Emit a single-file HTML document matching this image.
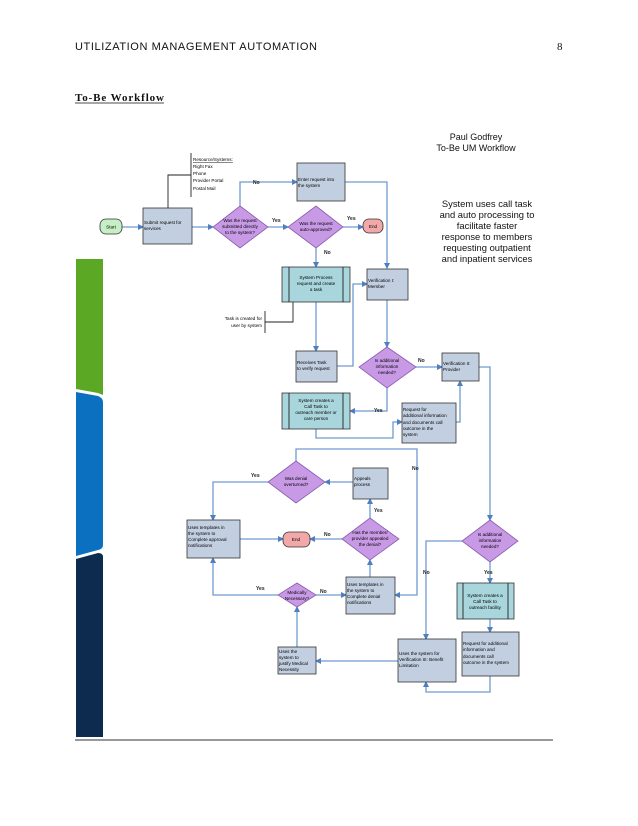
<!DOCTYPE html>
<html><head><meta charset="utf-8"><style>
html,body{margin:0;padding:0;background:#fff;}
svg{display:block;}
.t{font-family:"Liberation Sans",sans-serif;font-size:4.6px;fill:#000;}
.ln{stroke:#6f9ad0;stroke-width:1.3;fill:none;}
.bk{stroke:#222;stroke-width:0.9;fill:none;}
.box{fill:#c2cfe0;stroke:#333;stroke-width:0.8;}
.teal{fill:#a8d6dc;stroke:#333;stroke-width:0.8;}
.dia{fill:#c89ae6;stroke:#8a5ab0;stroke-width:0.8;}
.lb{font-family:"Liberation Sans",sans-serif;font-size:5px;fill:#222;font-weight:bold;}
</style></head><body>
<svg width="638" height="826" viewBox="0 0 638 826" xmlns="http://www.w3.org/2000/svg">
<defs><marker id="a" markerWidth="6" markerHeight="6" refX="5" refY="3" orient="auto" markerUnits="userSpaceOnUse"><path d="M0,0 L6,3 L0,6 z" fill="#4f7fc0"/></marker></defs>
<rect width="638" height="826" fill="#fff"/>
<text x="75" y="50" font-family="Liberation Sans,sans-serif" font-size="11" textLength="242" fill="#111">UTILIZATION MANAGEMENT AUTOMATION</text>
<text x="557" y="50" font-family="Liberation Serif,serif" font-size="11" fill="#111">8</text>
<text x="75" y="101" font-family="Liberation Serif,serif" font-size="11" font-weight="bold" textLength="89" fill="#111">To-Be Workflow</text>
<line x1="75" y1="103" x2="164" y2="103" stroke="#111" stroke-width="0.8"/>
<path d="M76,259 H103 V395 L98,393 L76,389 Z" fill="#5aa823"/>
<path d="M76,392 L98,396 Q103,398 103,402 V545 Q103,549 98,550 L76,556 Z" fill="#0b70c0"/>
<path d="M76,559 L98,553 Q103,553 103,557 V737 H76 Z" fill="#0d2a4f"/>
<line x1="75" y1="740" x2="553" y2="740" stroke="#333" stroke-width="1"/>

<text x="476" y="140" text-anchor="middle" font-family="Liberation Sans,sans-serif" font-size="9" fill="#111">Paul Godfrey</text>
<text x="476" y="151" text-anchor="middle" font-family="Liberation Sans,sans-serif" font-size="9" fill="#111">To-Be UM Workflow</text>
<g font-family="Liberation Sans,sans-serif" font-size="9.4" fill="#111" text-anchor="middle">
<text x="487" y="207">System uses call task</text>
<text x="487" y="218">and auto processing to</text>
<text x="487" y="229">facilitate faster</text>
<text x="487" y="240">response to members</text>
<text x="487" y="251">requesting outpatient</text>
<text x="487" y="262">and inpatient services</text>
</g>

<line class="bk" x1="191" y1="153" x2="191" y2="197"/>
<path class="bk" d="M191,175 H168 V208"/>
<text class="t" x="193" y="161" text-decoration="underline">Resource/Systems:</text>
<text class="t" x="193" y="168">Right Fax</text>
<text class="t" x="193" y="175">Phone</text>
<text class="t" x="193" y="182">Provider Portal</text>
<text class="t" x="193" y="190">Postal Mail</text>

<line class="bk" x1="265" y1="311" x2="265" y2="333"/>
<path class="bk" d="M265,322 H293 V302"/>
<text class="t" x="262" y="320" text-anchor="end">Task is created for</text>
<text class="t" x="262" y="327" text-anchor="end">user by system</text>

<g class="ln" marker-end="url(#a)">
<path d="M122,227 H143"/>
<path d="M192,227 H213"/>
<path d="M268,227 H288"/>
<path d="M343,227 H363"/>
<path d="M240,206 V182 H297"/>
<path d="M345,182 H387 V268"/>
<path d="M316,247 V267"/>
<path d="M316,302 V351"/>
<path d="M337,366 H353 V284 H367"/>
<path d="M387,300 V347"/>
<path d="M416,367 H442"/>
<path d="M387,388 V411 H350"/>
<path d="M316,429 V438 H393 V422 H402"/>
<path d="M456,422 H460 V381"/>
<path d="M479,367 H490 V520"/>
<path d="M296,461 V449 H417 V595 H395"/>
<path d="M353,482 H325"/>
<path d="M268,482 H213 V520"/>
<path d="M240,539 H283"/>
<path d="M342,539 H310"/>
<path d="M370,518 V499"/>
<path d="M370,577 V560"/>
<path d="M316,595 H346"/>
<path d="M278,595 H213 V558"/>
<path d="M297,647 V607"/>
<path d="M462,541 H426 V639"/>
<path d="M490,562 V583"/>
<path d="M490,619 V632"/>
<path d="M490,676 V692 H426 V682"/>
<path d="M398,661 H316"/>
</g>

<g class="lb">
<text x="253" y="184">No</text>
<text x="272" y="222">Yes</text>
<text x="347" y="220">Yes</text>
<text x="324" y="254">No</text>
<text x="418" y="362">No</text>
<text x="374" y="412">Yes</text>
<text x="412" y="470">No</text>
<text x="251" y="477">Yes</text>
<text x="374" y="512">Yes</text>
<text x="324" y="536">No</text>
<text x="256" y="590">Yes</text>
<text x="320" y="593">No</text>
<text x="423" y="574">No</text>
<text x="484" y="574">Yes</text>
</g>

<rect x="100" y="219" width="22" height="15" rx="6" fill="#c6efc6" stroke="#333" stroke-width="0.8"/>
<text class="t" x="111" y="228.5" text-anchor="middle">Start</text>
<rect x="363" y="219" width="20" height="14" rx="6" fill="#f2a8a8" stroke="#333" stroke-width="0.8"/>
<text class="t" x="373" y="228" text-anchor="middle">End</text>
<rect x="283" y="532" width="27" height="15" rx="6" fill="#f2a8a8" stroke="#333" stroke-width="0.8"/>
<text class="t" x="296" y="541" text-anchor="middle">End</text>

<rect class="box" x="143" y="208" width="49" height="36"/>
<text class="t" x="144" y="224">Submit request for</text><text class="t" x="144" y="230">services</text>
<rect class="box" x="297" y="163" width="48" height="38"/>
<text class="t" x="298" y="181">Enter request into</text><text class="t" x="298" y="187">the system</text>
<rect class="teal" x="282" y="267" width="68" height="35"/><line class="bk" x1="289" y1="267" x2="289" y2="302"/><line class="bk" x1="343" y1="267" x2="343" y2="302"/>
<text class="t" x="316" y="279" text-anchor="middle">System Process</text><text class="t" x="316" y="285" text-anchor="middle">request and create</text><text class="t" x="316" y="291" text-anchor="middle">a task</text>
<rect class="box" x="367" y="269" width="41" height="31"/>
<text class="t" x="368" y="282">Verification I:</text><text class="t" x="368" y="288">Member</text>
<rect class="box" x="296" y="351" width="41" height="31"/>
<text class="t" x="297" y="364">Receives Task</text><text class="t" x="297" y="370">to verify request</text>
<rect class="box" x="442" y="353" width="37" height="28"/>
<text class="t" x="443" y="365">Verification II:</text><text class="t" x="443" y="371">Provider</text>
<rect class="teal" x="282" y="393" width="68" height="36"/><line class="bk" x1="289" y1="393" x2="289" y2="429"/><line class="bk" x1="343" y1="393" x2="343" y2="429"/>
<text class="t" x="316" y="402" text-anchor="middle">System creates a</text><text class="t" x="316" y="408" text-anchor="middle">Call Task to</text><text class="t" x="316" y="414" text-anchor="middle">outreach member or</text><text class="t" x="316" y="420" text-anchor="middle">care person</text>
<rect class="box" x="402" y="403" width="54" height="40"/>
<text class="t" x="403" y="411">Request for</text><text class="t" x="403" y="417">additional information</text><text class="t" x="403" y="424">and documents call</text><text class="t" x="403" y="430">outcome in the</text><text class="t" x="403" y="436">system</text>
<rect class="box" x="353" y="468" width="35" height="31"/>
<text class="t" x="354" y="480">Appeals</text><text class="t" x="354" y="486">process</text>
<rect class="box" x="187" y="520" width="53" height="38"/>
<text class="t" x="188" y="529">Uses templates in</text><text class="t" x="188" y="535">the system to</text><text class="t" x="188" y="541">Complete approval</text><text class="t" x="188" y="547">notifications</text>
<rect class="box" x="346" y="577" width="49" height="37"/>
<text class="t" x="347" y="586">Uses templates in</text><text class="t" x="347" y="592">the system to</text><text class="t" x="347" y="598">Complete denial</text><text class="t" x="347" y="604">notifications</text>
<rect class="teal" x="457" y="583" width="57" height="36"/><line class="bk" x1="463" y1="583" x2="463" y2="619"/><line class="bk" x1="508" y1="583" x2="508" y2="619"/>
<text class="t" x="485" y="597" text-anchor="middle">System creates a</text><text class="t" x="485" y="603" text-anchor="middle">Call Task to</text><text class="t" x="485" y="609" text-anchor="middle">outreach facility</text>
<rect class="box" x="462" y="632" width="57" height="44"/>
<text class="t" x="463" y="645">Request for additional</text><text class="t" x="463" y="651">information and</text><text class="t" x="463" y="658">documents call</text><text class="t" x="463" y="664">outcome in the system</text>
<rect class="box" x="398" y="639" width="58" height="43"/>
<text class="t" x="399" y="655">Uses the system for</text><text class="t" x="399" y="661">Verification III: Benefit</text><text class="t" x="399" y="667">Limitation</text>
<rect class="box" x="278" y="647" width="38" height="27"/>
<text class="t" x="279" y="653">Uses the</text><text class="t" x="279" y="659">system to</text><text class="t" x="279" y="665">justify Medical</text><text class="t" x="279" y="671">Necessity</text>

<polygon class="dia" points="240,206 268,227 240,248 213,227"/>
<text class="t" x="240" y="222" text-anchor="middle">Was the request</text><text class="t" x="240" y="228" text-anchor="middle">submitted directly</text><text class="t" x="240" y="234" text-anchor="middle">to the system?</text>
<polygon class="dia" points="316,206 343,227 316,248 288,227"/>
<text class="t" x="316" y="225" text-anchor="middle">Was the request</text><text class="t" x="316" y="231" text-anchor="middle">auto-approved?</text>
<polygon class="dia" points="387,347 416,367 387,388 359,367"/>
<text class="t" x="387" y="362" text-anchor="middle">Is additional</text><text class="t" x="387" y="368" text-anchor="middle">information</text><text class="t" x="387" y="374" text-anchor="middle">needed?</text>
<polygon class="dia" points="296,461 325,482 296,503 268,482"/>
<text class="t" x="296" y="480" text-anchor="middle">Was denial</text><text class="t" x="296" y="486" text-anchor="middle">overturned?</text>
<polygon class="dia" points="370,518 399,539 370,560 342,539"/>
<text class="t" x="370" y="534" text-anchor="middle">Has the member/</text><text class="t" x="370" y="540" text-anchor="middle">provider appealed</text><text class="t" x="370" y="546" text-anchor="middle">the denial?</text>
<polygon class="dia" points="297,583 316,595 297,607 278,595"/>
<text class="t" x="297" y="594" text-anchor="middle">Medically</text><text class="t" x="297" y="600" text-anchor="middle">Necessary?</text>
<polygon class="dia" points="490,520 518,541 490,562 462,541"/>
<text class="t" x="490" y="536" text-anchor="middle">Is additional</text><text class="t" x="490" y="542" text-anchor="middle">information</text><text class="t" x="490" y="548" text-anchor="middle">needed?</text>
</svg>
</body></html>
